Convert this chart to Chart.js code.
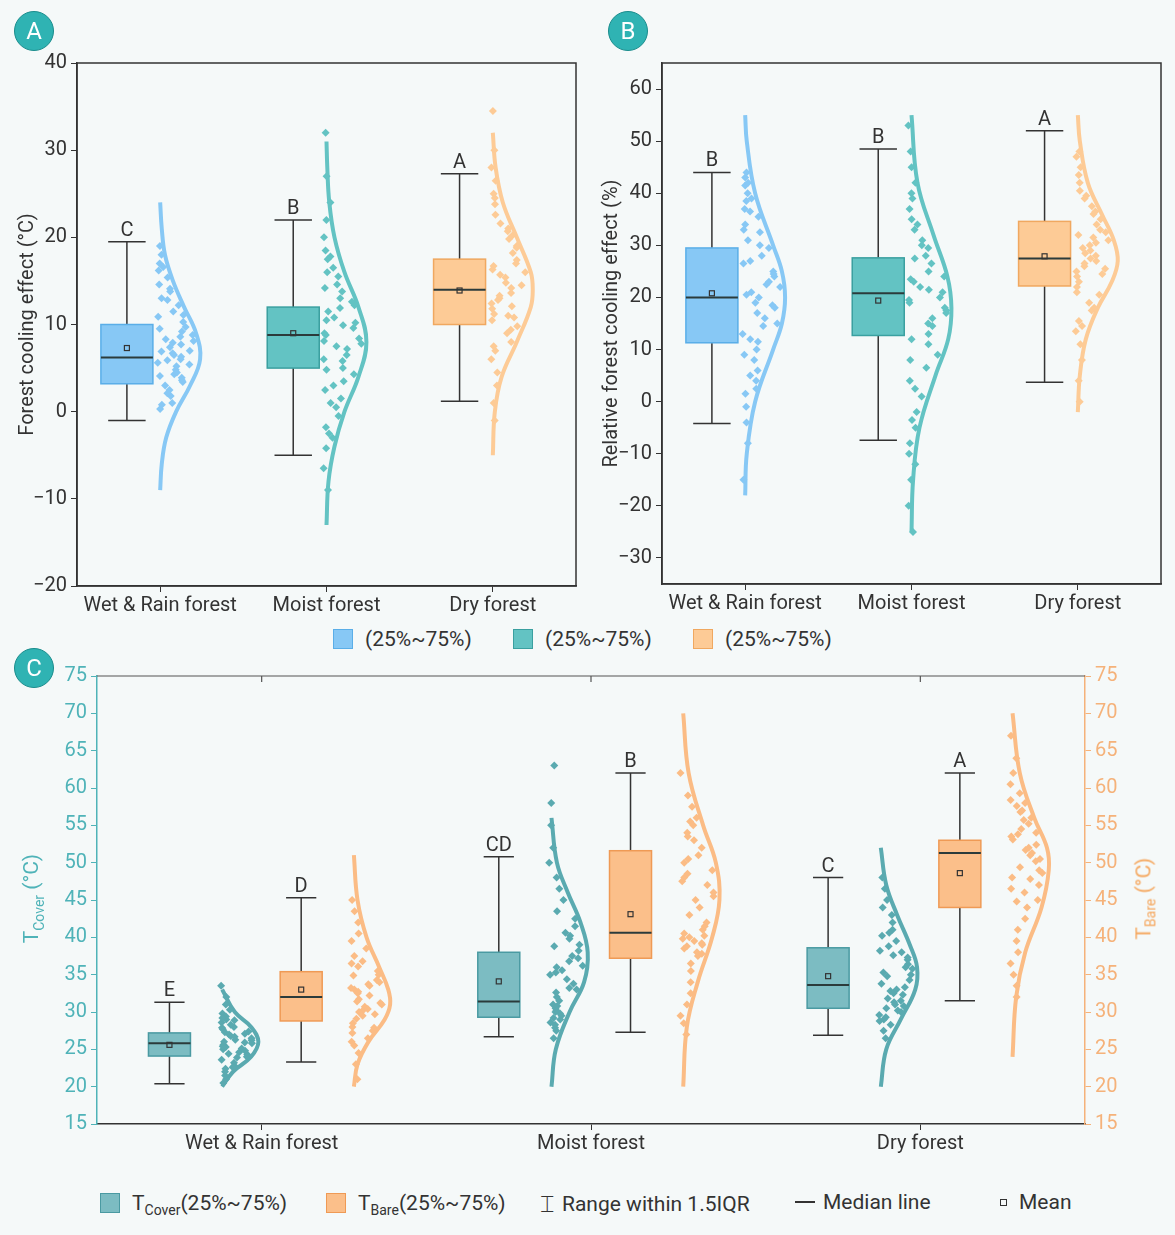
<!DOCTYPE html>
<html><head><meta charset="utf-8">
<script src="https://cdn.jsdelivr.net/npm/chart.js@4.4.0/dist/chart.umd.min.js"></script>
<style>
body{margin:0;width:1175px;height:1235px;background:#f5f9f9;font-family:Roboto,sans-serif;position:relative;overflow:hidden;color:#333}
.cv{position:absolute}
.tag{position:absolute;width:38px;height:38px;border-radius:50%;background:#2fb3b3;color:#fff;font-size:24px;line-height:38px;text-align:center;border:1px solid #1a8c8c}
.leg{position:absolute;font-size:21px;color:#333;display:flex;align-items:center;white-space:nowrap}
.sw{display:inline-block;width:18px;height:18px;margin-right:12px;border:1.5px solid}
.rot{position:absolute;transform:rotate(-90deg);transform-origin:center;font-size:21px;white-space:nowrap;text-align:center}
sub{font-size:14px}
</style></head><body>
<div class="cv" style="left:0;top:47px;width:590px;height:573px"><canvas id="cA"></canvas></div>
<div class="cv" style="left:590px;top:47px;width:585px;height:571px"><canvas id="cB"></canvas></div>
<div class="cv" style="left:0;top:660px;width:1175px;height:500px"><canvas id="cC"></canvas></div>
<div class="tag" style="left:14px;top:11px">A</div>
<div class="tag" style="left:608px;top:11px">B</div>
<div class="tag" style="left:14px;top:648px">C</div>
<div class="leg" style="left:333px;top:627px"><span class="sw" style="background:#87c8f5;border-color:#5aaee8"></span>(25%~75%)</div>
<div class="leg" style="left:513px;top:627px"><span class="sw" style="background:#63c3c3;border-color:#3aa0a0"></span>(25%~75%)</div>
<div class="leg" style="left:693px;top:627px"><span class="sw" style="background:#fdcb96;border-color:#f0a860"></span>(25%~75%)</div>
<div class="leg" style="left:100px;top:1188px"><span class="sw" style="background:#7cbcc2;border-color:#4a9aa2"></span>T<sub style="margin-top:14px">Cover</sub>(25%~75%)</div>
<div class="leg" style="left:326px;top:1188px"><span class="sw" style="background:#fbbf8a;border-color:#ef9a55"></span>T<sub style="margin-top:14px">Bare</sub>(25%~75%)</div>
<div class="leg" style="left:540px;top:1190px"><span style="font-size:24px;margin-right:8px">&#x2336;</span>Range within 1.5IQR</div>
<div class="leg" style="left:795px;top:1190px"><span style="display:inline-block;width:20px;border-top:2px solid #333;margin-right:8px"></span>Median line</div>
<div class="leg" style="left:1000px;top:1190px"><span style="display:inline-block;width:5px;height:5px;border:1px solid #333;margin-right:12px"></span>Mean</div>
<div class="rot" style="left:-72px;top:885px;width:210px;color:#4fb3b8">T<sub>Cover</sub> (°C)</div>
<div class="rot" style="left:1040px;top:885px;width:210px;color:#f5a860">T<sub>Bare</sub> (°C)</div>
<script>
const categories = ['Wet & Rain forest', 'Moist forest', 'Dry forest'];
const lettersA = ['C', 'B', 'A'];
const lettersB = ['B', 'B', 'A'];
const lettersCover = ['E', 'CD', 'C'];
const lettersBare = ['D', 'B', 'A'];
// box stats: [lowWhisker, q1, median, q3, highWhisker, mean]
const boxA = [[-1, 3.2, 6.2, 10, 19.5, 7.3], [-5, 5, 8.8, 12, 22, 9], [1.2, 10, 14, 17.5, 27.3, 13.9]];
const boxB = [[-4.2, 11.3, 20, 29.5, 44, 20.8], [-7.4, 12.7, 20.8, 27.6, 48.5, 19.4], [3.7, 22.2, 27.5, 34.6, 52, 27.9]];
const boxCover = [[20.4, 24.1, 25.8, 27.2, 31.3, 25.6], [26.7, 29.3, 31.4, 38, 50.8, 34.1], [26.9, 30.5, 33.6, 38.6, 48, 34.8]];
const boxBare = [[23.3, 28.8, 32, 35.4, 45.3, 33], [27.3, 37.2, 40.6, 51.6, 62, 43.1], [31.5, 44, 51.3, 53, 62, 48.6]];
// observed points
const ptsA = [
 [0.3,1,1.8,2.5,3,3.4,3.9,4.3,4.8,5.2,5.6,6,6.3,6.7,7,7.4,7.9,8.3,8.8,9.2,9.7,10.3,10.9,11.5,12.2,13,13.8,14.6,15.4,16.2,17,18,19,2.1,4.5,6.9,8.6,11.1,0.8,5.9,3.6,5.4,7.7,9.5,12.8,14.1,16.6,4.1,6.5,8.1],
 [-9,-6.5,-4.2,-3,-1.8,-0.5,0.5,1.5,2.5,3.5,4.3,5,5.8,6.5,7.2,7.8,8.4,9,9.6,10.2,10.8,11.5,12.2,13,13.8,14.6,15.5,16.5,17.5,18.5,20,22,24,27,32,6,8.1,9.9,11.9,3,7.5,8.8,10.5,12.6,14.2,16,17.8,-2.5,1,4.8],
 [-1,1,3,4.5,6,7,8,9,9.8,10.5,11.2,11.8,12.4,13,13.6,14.2,14.8,15.4,16,16.7,17.4,18.2,19,19.8,20.7,21.6,22.6,23.8,25,26.5,28,30,34.5,12.8,14.5,11,17,13.3,15.7,12.1,18.8,21,9.4,16.3,20.2,24.5,7.5,10.8]];
const ptsB = [
 [-15,-8,-4,-1,1.5,4,6,8,10,11.5,13,14.5,16,17,18,19,20,21,22,23,24,25,26.5,28,29.5,31,32.5,34,35.5,37,38.5,40,41.5,43,44,20.5,22.5,15,27,12,18.5,24.5,30,33,36.5,39,42,9,5,2.5],
 [-25,-20,-15,-12,-8,-5,-2,1,4,6.5,9,11,13,14.5,16,17,18,19,20,21,22,23,24,25,26.5,28,29.5,31,33,35,37,39,42,45,48,53,19.5,21.5,15,-3.5,2.5,8,12,17.5,23.5,27.5,30,34,40,-10],
 [0,4,8,11,13.5,15.5,17.5,19,20.5,22,23,24,25,26,27,28,29,30,31,32,33,34,35,36,37.5,39,40.5,42,43.5,45,47,48,27.5,29.5,25.5,31.5,24.5,26.5,28.5,30.5,32.5,36.5,39.5,21,18,14.5]];
const ptsCover = [
 [20.5,21,21.5,22,22.4,22.8,23.2,23.6,24,24.3,24.6,25,25.3,25.6,25.9,26.2,26.5,26.8,27.1,27.4,27.7,28,28.3,28.6,29,29.4,29.8,30.3,31,32,33.5,25.1,26.3,27.3,24.8,23.9,25.4,26,26.7,27.9,28.9,22.6,24.4,25.8,27,29.2],
 [26.5,27.5,28.3,29,29.5,30,30.5,31,31.5,32,32.6,33.2,33.8,34.4,35,35.6,36.2,36.8,37.5,38.2,39,39.8,40.6,41.5,42.5,43.5,45,46.5,48,50,52,55,58,63,29.8,30.8,37.2,28.6,29.2,30.2,36,38.8,40.2,27.9,33,35.3],
 [26.5,27.5,28.3,29,29.6,30.2,30.8,31.3,31.8,32.3,32.8,33.3,33.8,34.3,34.8,35.3,35.8,36.4,37,37.6,38.2,38.8,39.5,40.2,41,42,43,44,45,46.5,48,30.5,31.5,32.5,29.3,30,31,33,36,38,40.6,28.8,35,37.3]];
const ptsBare = [
 [21,23,24.5,25.5,26.5,27.2,27.9,28.5,29.1,29.7,30.2,30.7,31.2,31.7,32.2,32.7,33.2,33.7,34.3,34.9,35.5,36.1,36.8,37.5,38.5,39.5,40.5,42,43.5,45,31,33,29.5,35,28,30,32.5,34,36.5,27.5,26,31.4,33.5,30.4],
 [27,28.5,29.5,31,32.5,34,35.5,36.5,37.5,38,38.5,39,39.5,40,40.5,41,42,43,44,45,46,47,48,49,50,51,52,53,54,55,56,57.5,59,62,38.8,39.8,40.2,37.8,39.2,41.5,47.5,50.5,53.5,55.5,45.5,48.5],
 [32,33.5,35,36.5,38,39.5,41,42.5,44,45,46,47,47.8,48.6,49.4,50.2,51,51.7,52.4,53.1,53.8,54.5,55.2,56,56.8,57.6,58.4,59.3,60.5,62,64,67,52,53.5,50.5,48,49,51.3,54,55.7,57,58,46.5,44.8]];
// density outlines: y levels and relative widths
const violA = [
 [[-9,-6,-3,0,3,6,9,12,15,18,21,24],[0,0.04,0.15,0.4,0.75,1,0.9,0.6,0.32,0.12,0.04,0]],
 [[-13,-8,-4,0,4,8,12,16,20,24,28,31],[0,0.05,0.2,0.45,0.8,1,0.8,0.45,0.2,0.07,0.02,0]],
 [[-5,0,4,8,12,14,16,20,24,28,32],[0,0.05,0.22,0.6,0.95,1,0.95,0.6,0.25,0.07,0]]];
const violB = [
 [[-18,-10,0,10,15,20,25,30,40,50,55],[0,0.04,0.25,0.7,0.92,1,0.92,0.7,0.25,0.04,0]],
 [[-25,-15,-5,5,12,18,24,32,42,55],[0,0.04,0.2,0.6,0.92,1,0.9,0.55,0.15,0]],
 [[-2,5,12,18,23,27,31,36,42,50,55],[0,0.05,0.2,0.5,0.85,1,0.9,0.6,0.25,0.05,0]]];
const violCover = [
 [[20,22,24,26,28,30,33],[0,0.3,0.8,1,0.8,0.35,0]],
 [[20,25,30,34,38,42,46,50,56],[0,0.12,0.5,0.9,1,0.8,0.45,0.15,0]],
 [[20,25,29,33,36,39,43,47,52],[0,0.15,0.55,0.95,1,0.8,0.45,0.15,0]]];
const violBare = [
 [[20,23,26,29,31,33,36,40,45,51],[0,0.1,0.4,0.85,1,0.95,0.7,0.35,0.1,0]],
 [[20,28,34,40,45,50,55,62,70],[0,0.1,0.4,0.8,1,0.9,0.55,0.15,0]],
 [[24,32,38,44,49,52,56,62,70],[0,0.1,0.35,0.8,1,0.95,0.6,0.2,0]]];
const ticksA = [-20,-10,0,10,20,30,40];
const ticksB = [-30,-20,-10,0,10,20,30,40,50,60];

const INK = '#333';
const FONT = 'Roboto, sans-serif';
const minus = v => String(v).replace('-', '\u2212');

function widthAt(v, y) {
    const ys = v[0], ws = v[1];
    if (y <= ys[0] || y >= ys[ys.length - 1]) return 0;
    for (let i = 1; i < ys.length; i++) {
        if (y <= ys[i]) {
            const t = (y - ys[i - 1]) / (ys[i] - ys[i - 1]);
            return ws[i - 1] + t * (ws[i] - ws[i - 1]);
        }
    }
    return 0;
}

// jitter fraction for horizontal spread of points (layout only)
function jitter(i) {
    const s = Math.sin(i * 12.9898 + 78.233) * 43758.5453;
    return s - Math.floor(s);
}

function groupSets(pts, viol, center, maxW, color, seed) {
    return [{
        data: viol[0].map((y, i) => ({ x: center + viol[1][i] * maxW, y })),
        showLine: true, borderColor: color, borderWidth: 4, pointRadius: 0, tension: 0.4, order: 2
    }, {
        data: pts.map((y, i) => {
            const w = Math.max(widthAt(viol, y), 0.2);
            return { x: center - maxW * 0.08 + jitter(i + seed) * w * maxW, y };
        }),
        pointStyle: 'rectRot', pointRadius: 4, backgroundColor: color, borderWidth: 0, order: 1
    }];
}

const framePlugin = {
    id: 'frame',
    beforeDatasetsDraw(chart) {
        const { ctx, chartArea: a } = chart;
        ctx.save();
        ctx.strokeStyle = INK; ctx.lineWidth = 1.5;
        ctx.strokeRect(a.left, a.top, a.right - a.left, a.bottom - a.top);
        ctx.restore();
    }
};

function drawBox(chart, yScale, xv, s, half, fill, stroke, letter) {
    const { ctx, scales: { x } } = chart;
    const cx = x.getPixelForValue(xv);
    const [lo, q1, med, q3, hi, mean] = s.map(v => yScale.getPixelForValue(v));
    ctx.save();
    ctx.strokeStyle = INK; ctx.lineWidth = 1.5;
    ctx.beginPath();
    ctx.moveTo(cx, hi); ctx.lineTo(cx, q3);
    ctx.moveTo(cx, q1); ctx.lineTo(cx, lo);
    ctx.moveTo(cx - half * 0.72, hi); ctx.lineTo(cx + half * 0.72, hi);
    ctx.moveTo(cx - half * 0.72, lo); ctx.lineTo(cx + half * 0.72, lo);
    ctx.stroke();
    ctx.fillStyle = fill; ctx.strokeStyle = stroke;
    ctx.fillRect(cx - half, q3, half * 2, q1 - q3);
    ctx.strokeRect(cx - half, q3, half * 2, q1 - q3);
    ctx.strokeStyle = '#2b3b3b'; ctx.lineWidth = 2;
    ctx.beginPath(); ctx.moveTo(cx - half, med); ctx.lineTo(cx + half, med); ctx.stroke();
    ctx.lineWidth = 1.2; ctx.strokeStyle = INK;
    ctx.strokeRect(cx - 2.5, mean - 2.5, 5, 5);
    ctx.fillStyle = INK; ctx.font = '20px ' + FONT;
    ctx.textAlign = 'center'; ctx.textBaseline = 'bottom';
    ctx.fillText(letter, cx, hi - 1);
    ctx.restore();
}

function makeTop(id, pts, viol, stats, letters, yOpts, title, yWidth, titlePad) {
    const cols = ['#87c8f5', '#63c3c3', '#fdcb96'];
    const strokes = ['#5aaee8', '#3aa0a0', '#f0a860'];
    let sets = [];
    for (let i = 0; i < 3; i++) sets = sets.concat(groupSets(pts[i], viol[i], i + 1, 0.24, cols[i], i * 100));
    new Chart(document.getElementById(id), {
        type: 'scatter',
        data: { datasets: sets },
        options: {
            responsive: true, maintainAspectRatio: false, animation: false,
            layout: { padding: { top: 5, right: 14, left: 0, bottom: 0 } },
            plugins: { legend: { display: false }, tooltip: { enabled: false } },
            scales: {
                x: {
                    type: 'linear', min: 0.5, max: 3.5,
                    afterBuildTicks: s => { s.ticks = [1, 2, 3].map(v => ({ value: v })); },
                    afterFit: s => { s.height = 34; },
                    ticks: { callback: v => categories[v - 1], color: INK, font: { size: 20, family: FONT }, padding: 2, maxRotation: 0 },
                    grid: { drawOnChartArea: false, color: INK, tickLength: 6 },
                    border: { color: INK, width: 1.5 }
                },
                y: Object.assign({
                    afterFit: s => { s.width = yWidth; },
                    title: { display: true, text: title, color: INK, font: { size: 20, family: FONT }, padding: { top: titlePad, bottom: 0 } },
                    ticks: { color: INK, font: { size: 20, family: FONT }, padding: 4, callback: minus },
                    grid: { drawOnChartArea: false, color: INK, tickLength: 6 },
                    border: { color: INK, width: 1.5 }
                }, yOpts)
            }
        },
        plugins: [framePlugin, {
            id: 'bx',
            afterDatasetsDraw(chart) {
                stats.forEach((s, i) => drawBox(chart, chart.scales.y, i + 1 - 0.2, s, 26, cols[i], strokes[i], letters[i]));
            }
        }]
    });
}

makeTop('cA', ptsA, violA, boxA, lettersA, { min: -20, max: 40,
    afterBuildTicks: s => { s.ticks = ticksA.map(v => ({ value: v })); } },
    'Forest cooling effect (°C)', 77, 16);
makeTop('cB', ptsB, violB, boxB, lettersB, { min: -35, max: 65,
    afterBuildTicks: s => { s.ticks = ticksB.map(v => ({ value: v })); } },
    'Relative forest cooling effect (%)', 72, 10);

// panel C
(function () {
    const tickFont = { size: 20, family: FONT };
    let sets = [];
    for (let i = 0; i < 3; i++) {
        sets = sets.concat(groupSets(ptsCover[i], violCover[i], i + 1 - 0.12, 0.11, '#5aaab0', 300 + i * 50));
        sets = sets.concat(groupSets(ptsBare[i], violBare[i], i + 1 + 0.28, 0.11, '#fbbc85', 600 + i * 50));
    }
    new Chart(document.getElementById('cC'), {
        type: 'scatter',
        data: { datasets: sets },
        options: {
            responsive: true, maintainAspectRatio: false, animation: false,
            layout: { padding: { top: 15, right: 0, left: 0, bottom: 0 } },
            plugins: { legend: { display: false }, tooltip: { enabled: false } },
            scales: {
                x: {
                    type: 'linear', min: 0.5, max: 3.5,
                    afterBuildTicks: s => { s.ticks = [1, 2, 3].map(v => ({ value: v })); },
                    afterFit: s => { s.height = 36; },
                    ticks: { callback: v => categories[v - 1], color: INK, font: tickFont, padding: 2, maxRotation: 0 },
                    grid: { drawOnChartArea: false, color: INK, tickLength: 6 },
                    border: { color: INK, width: 1.5 }
                },
                y: {
                    position: 'left', min: 15, max: 75,
                    afterFit: s => { s.width = 97; },
                    ticks: { stepSize: 5, color: '#4fb3b8', font: tickFont, padding: 4 },
                    grid: { drawOnChartArea: false, color: '#4fb3b8', tickLength: 6 },
                    border: { color: '#4fb3b8', width: 1.5 }
                },
                y2: {
                    position: 'right', min: 15, max: 75,
                    afterFit: s => { s.width = 90; },
                    ticks: { stepSize: 5, color: '#f5b27a', font: tickFont, padding: 4 },
                    grid: { drawOnChartArea: false, color: '#f5b27a', tickLength: 6 },
                    border: { color: '#f5b27a', width: 1.5 }
                }
            }
        },
        plugins: [{
            id: 'bxC',
            beforeDatasetsDraw(chart) {
                const { ctx, chartArea: a, scales: { x } } = chart;
                ctx.save();
                ctx.strokeStyle = '#555'; ctx.lineWidth = 1.2;
                ctx.beginPath(); ctx.moveTo(a.left, a.top); ctx.lineTo(a.right, a.top);
                [1, 2, 3].forEach(v => { const px = x.getPixelForValue(v); ctx.moveTo(px, a.top); ctx.lineTo(px, a.top + 6); });
                ctx.stroke(); ctx.restore();
            },
            afterDatasetsDraw(chart) {
                for (let i = 0; i < 3; i++) {
                    drawBox(chart, chart.scales.y, i + 1 - 0.28, boxCover[i], 21, '#7cbcc2', '#4a9aa2', lettersCover[i]);
                    drawBox(chart, chart.scales.y, i + 1 + 0.12, boxBare[i], 21, '#fbbf8a', '#ef9a55', lettersBare[i]);
                }
            }
        }]
    });
})();
</script>
</body></html>
